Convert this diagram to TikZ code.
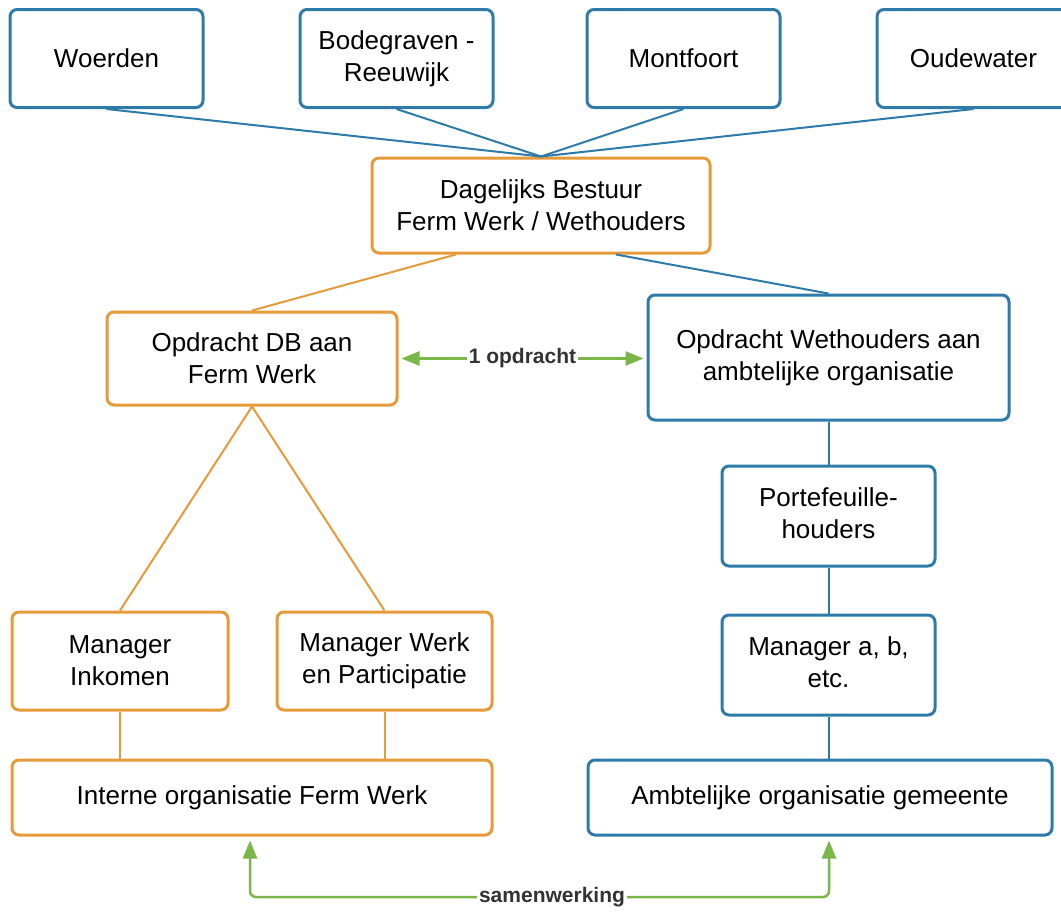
\documentclass[tikz,border=0pt]{standalone}
\usepackage{fontspec}
\setmainfont{Liberation Sans}
\usetikzlibrary{arrows.meta,calc}
\definecolor{bl}{HTML}{2E7BAA}
\definecolor{orn}{HTML}{E69B3A}
\definecolor{grn}{HTML}{7AB648}
\definecolor{lblc}{HTML}{333333}
\newcommand{\uptext}[1]{\raisebox{7pt}{\begin{tabular}{@{}c@{}}#1\end{tabular}}}
\begin{document}
\begin{tikzpicture}[x=1pt,y=-1pt,
 box/.style={draw, line width=3pt, rounded corners=7pt, fill=white, align=center, inner sep=0pt, font=\fontsize{26}{32}\selectfont, text=black},
 bbox/.style={box, draw=bl},
 obox/.style={box, draw=orn},
 bline/.style={draw=bl, line width=2pt},
 oline/.style={draw=orn, line width=2pt},
 garrow/.style={draw=grn, line width=2.5pt, {Triangle[length=18pt,width=14pt]}-{Triangle[length=18pt,width=14pt]}},
 glabel/.style={fill=white, text=lblc, font=\bfseries\fontsize{21}{25}\selectfont, inner sep=2pt}]
\path[use as bounding box] (0,0) rectangle (1061,913);
\clip (0,0) rectangle (1061,913);
\fill[white] (0,0) rectangle (1061,913);

% top row
\node[bbox, minimum width=193pt, minimum height=98pt] (woe) at (106.5,58.5) {Woerden};
\node[bbox, minimum width=193pt, minimum height=98pt] (bod) at (396.5,58.5) {Bodegraven -\\Reeuwijk};
\node[bbox, minimum width=193pt, minimum height=98pt] (mon) at (683.5,58.5) {Montfoort};
\node[bbox, minimum width=193pt, minimum height=98pt] (oud) at (973.5,58.5) {Oudewater};

\node[obox, minimum width=338pt, minimum height=95pt] (dag) at (541,205.5) {Dagelijks Bestuur\\Ferm Werk / Wethouders};

\node[obox, minimum width=290pt, minimum height=93pt] (opdb) at (252,358.5) {Opdracht DB aan\\Ferm Werk};
\node[bbox, minimum width=361pt, minimum height=125pt] (weth) at (828.5,357.5) {Opdracht Wethouders aan\\ambtelijke organisatie};

\node[bbox, minimum width=213pt, minimum height=100pt] (port) at (828.5,516) {\uptext{Portefeuille-\\houders}};
\node[bbox, minimum width=213pt, minimum height=100pt] (mgr) at (828.5,665) {\uptext{Manager a, b,\\etc.}};

\node[obox, minimum width=216pt, minimum height=98pt] (ink) at (120,661) {Manager\\Inkomen};
\node[obox, minimum width=215pt, minimum height=98pt] (wrk) at (384.5,661) {Manager Werk\\en Participatie};

\node[obox, minimum width=480pt, minimum height=75pt] (int) at (252,797.5) {Interne organisatie Ferm Werk};
\node[bbox, minimum width=464pt, minimum height=75pt] (amb) at (820,797.5) {Ambtelijke organisatie gemeente};

% connectors
\draw[bline] (woe.south) -- (dag.north);
\draw[bline] (bod.south) -- (dag.north);
\draw[bline] (mon.south) -- (dag.north);
\draw[bline] (oud.south) -- (dag.north);

\draw[oline] ($(dag.south west)!0.25!(dag.south east)$) -- (opdb.north);
\draw[bline] ($(dag.south west)!0.72!(dag.south east)$) -- (weth.north);

\draw[oline] (opdb.south) -- (ink.north);
\draw[oline] (opdb.south) -- (wrk.north);
\draw[oline] (ink.south) -- (ink.south |- int.north);
\draw[oline] (wrk.south) -- (wrk.south |- int.north);

\draw[bline] (weth.south) -- (port.north);
\draw[bline] (port.south) -- (mgr.north);
\draw[bline] (mgr.south) -- (mgr.south |- amb.north);

\draw[garrow] ([xshift=3pt]opdb.east) -- ([xshift=-3pt]opdb.east -| weth.west)
  node[glabel, pos=0.5] (opl) {1 opdracht};

\coordinate (sl) at (250,897);
\coordinate (sr) at (829,897);
\draw[garrow, rounded corners=6pt] ([yshift=-4pt]sl |- int.south) -- (sl) -- (sr) -- ([yshift=-4pt]sr |- amb.south);
\node[glabel] (swl) at (552,897) {samenwerking};
\end{tikzpicture}
\end{document}
